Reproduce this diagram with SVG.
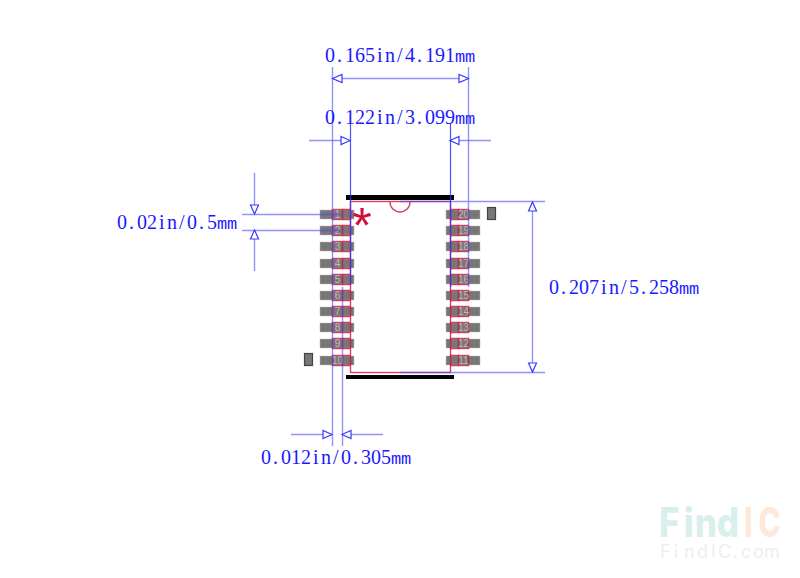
<svg xmlns="http://www.w3.org/2000/svg" width="800" height="578" viewBox="0 0 800 578">
<style>
.d{stroke:#4a4aff;stroke-opacity:.6;stroke-width:1.4;fill:none}
.s{stroke:#3030ff;stroke-opacity:.85;stroke-width:1.2;fill:none}
.t{font-family:"Liberation Serif",serif;font-size:20px;fill:#1a1aff}
.u{font-family:"Liberation Mono",monospace;font-size:17px}
.p{fill:#777;stroke:#bbb;stroke-width:1;stroke-opacity:.5}
.r{fill:none;stroke:#d0103a;stroke-width:1.4;stroke-opacity:.8}
.n{font-family:"Liberation Sans",sans-serif;font-size:10px;fill:#bbb;text-anchor:middle}
.b{fill:#000}
.m{fill:#777;stroke:#444;stroke-width:1.2}
.a{fill:#fff;stroke:#3a3aff;stroke-width:1.2}
</style>
<rect width="800" height="578" fill="#fff"/>
<g id="pins-left">
<g id="pin1"><rect class="p" x="320" y="210" width="34" height="9"/><rect class="r" x="332.500" y="209.500" width="10" height="10"/><path class="r" d="M342.500 209.500H350M342.500 219.500H350"/><text class="n" x="337.500" y="218">1</text></g>
<g id="pin2"><rect class="p" x="320" y="226" width="34" height="9"/><rect class="r" x="332.500" y="225.500" width="10" height="10"/><path class="r" d="M342.500 225.500H350M342.500 235.500H350"/><text class="n" x="337.500" y="234">2</text></g>
<g id="pin3"><rect class="p" x="320" y="242" width="34" height="9"/><rect class="r" x="332.500" y="241.500" width="10" height="10"/><path class="r" d="M342.500 241.500H350M342.500 251.500H350"/><text class="n" x="337.500" y="250">3</text></g>
<g id="pin4"><rect class="p" x="320" y="259" width="34" height="9"/><rect class="r" x="332.500" y="258.500" width="10" height="10"/><path class="r" d="M342.500 258.500H350M342.500 268.500H350"/><text class="n" x="337.500" y="267">4</text></g>
<g id="pin5"><rect class="p" x="320" y="275" width="34" height="9"/><rect class="r" x="332.500" y="274.500" width="10" height="10"/><path class="r" d="M342.500 274.500H350M342.500 284.500H350"/><text class="n" x="337.500" y="283">5</text></g>
<g id="pin6"><rect class="p" x="320" y="291" width="34" height="9"/><rect class="r" x="332.500" y="290.500" width="10" height="10"/><path class="r" d="M342.500 290.500H350M342.500 300.500H350"/><text class="n" x="337.500" y="299">6</text></g>
<g id="pin7"><rect class="p" x="320" y="307" width="34" height="9"/><rect class="r" x="332.500" y="306.500" width="10" height="10"/><path class="r" d="M342.500 306.500H350M342.500 316.500H350"/><text class="n" x="337.500" y="315">7</text></g>
<g id="pin8"><rect class="p" x="320" y="323" width="34" height="9"/><rect class="r" x="332.500" y="322.500" width="10" height="10"/><path class="r" d="M342.500 322.500H350M342.500 332.500H350"/><text class="n" x="337.500" y="331">8</text></g>
<g id="pin9"><rect class="p" x="320" y="339" width="34" height="9"/><rect class="r" x="332.500" y="338.500" width="10" height="10"/><path class="r" d="M342.500 338.500H350M342.500 348.500H350"/><text class="n" x="337.500" y="347">9</text></g>
<g id="pin10"><rect class="p" x="320" y="356" width="34" height="9"/><rect class="r" x="332.500" y="355.500" width="10" height="10"/><path class="r" d="M342.500 355.500H350M342.500 365.500H350"/><text class="n" x="337.500" y="364">10</text></g>
</g>
<g id="pins-right">
<g id="pin20"><rect class="p" x="446" y="210" width="34" height="9"/><rect class="r" x="458.500" y="209.500" width="10" height="10"/><path class="r" d="M450 209.500H458.500M450 219.500H458.500"/><text class="n" x="463.500" y="218">20</text></g>
<g id="pin19"><rect class="p" x="446" y="226" width="34" height="9"/><rect class="r" x="458.500" y="225.500" width="10" height="10"/><path class="r" d="M450 225.500H458.500M450 235.500H458.500"/><text class="n" x="463.500" y="234">19</text></g>
<g id="pin18"><rect class="p" x="446" y="242" width="34" height="9"/><rect class="r" x="458.500" y="241.500" width="10" height="10"/><path class="r" d="M450 241.500H458.500M450 251.500H458.500"/><text class="n" x="463.500" y="250">18</text></g>
<g id="pin17"><rect class="p" x="446" y="259" width="34" height="9"/><rect class="r" x="458.500" y="258.500" width="10" height="10"/><path class="r" d="M450 258.500H458.500M450 268.500H458.500"/><text class="n" x="463.500" y="267">17</text></g>
<g id="pin16"><rect class="p" x="446" y="275" width="34" height="9"/><rect class="r" x="458.500" y="274.500" width="10" height="10"/><path class="r" d="M450 274.500H458.500M450 284.500H458.500"/><text class="n" x="463.500" y="283">16</text></g>
<g id="pin15"><rect class="p" x="446" y="291" width="34" height="9"/><rect class="r" x="458.500" y="290.500" width="10" height="10"/><path class="r" d="M450 290.500H458.500M450 300.500H458.500"/><text class="n" x="463.500" y="299">15</text></g>
<g id="pin14"><rect class="p" x="446" y="307" width="34" height="9"/><rect class="r" x="458.500" y="306.500" width="10" height="10"/><path class="r" d="M450 306.500H458.500M450 316.500H458.500"/><text class="n" x="463.500" y="315">14</text></g>
<g id="pin13"><rect class="p" x="446" y="323" width="34" height="9"/><rect class="r" x="458.500" y="322.500" width="10" height="10"/><path class="r" d="M450 322.500H458.500M450 332.500H458.500"/><text class="n" x="463.500" y="331">13</text></g>
<g id="pin12"><rect class="p" x="446" y="339" width="34" height="9"/><rect class="r" x="458.500" y="338.500" width="10" height="10"/><path class="r" d="M450 338.500H458.500M450 348.500H458.500"/><text class="n" x="463.500" y="347">12</text></g>
<g id="pin11"><rect class="p" x="446" y="356" width="34" height="9"/><rect class="r" x="458.500" y="355.500" width="10" height="10"/><path class="r" d="M450 355.500H458.500M450 365.500H458.500"/><text class="n" x="463.500" y="364">11</text></g>
</g>
<g id="body">
<rect class="r" x="350.500" y="201.500" width="100" height="171"/>
<path class="r" d="M390 202A10 10 0 0 0 410 202"/>
<rect class="b" x="346" y="195" width="108" height="5"/>
<rect class="b" x="346" y="375" width="108" height="4"/>
<rect class="m" x="304.500" y="353.500" width="8" height="12"/>
<rect class="m" x="487.500" y="207.500" width="8" height="12"/>
<text x="362" y="243" font-family="Liberation Sans, sans-serif" font-size="50" fill="#d0103a" text-anchor="middle">*</text>
</g>
<g id="connectors">
<path class="d" d="M332.500 67V446M468.500 67V287M342.500 287V446M400 201.500H545M400 372.500H545M242 214.500H340M242 230.500H340"/>
<path class="s" d="M350.500 123V285M450.500 123V287"/>
<path class="d" d="M332.500 78.500H468.500M309 140.500H350M491 140.500H450M254.500 173V214M254.500 271V230M291 434.500H332M383 434.500H342M532.500 202V372"/>
<path class="a" d="M332.500 78.500L342 74.500V82.500ZM468.500 78.500L459 74.500V82.500ZM350 140.500L341 136.500V144.500ZM450 140.500L459 136.500V144.500ZM254.500 214L250.500 205H258.500ZM254.500 230L250.500 239H258.500ZM332 434.500L323 430.500V438.500ZM342 434.500L351 430.500V438.500ZM532.500 202L528.500 211H536.500ZM532.500 372L528.500 363H536.500Z"/>
</g>
<g id="labels">
<text class="t" y="62" x="325 337 345 355 365 377 385 397 405 417 425 435 445 455 465">0.165in/4.191<tspan class="u">mm</tspan></text>
<text class="t" y="124" x="325 337 345 355 365 377 385 397 405 417 425 435 445 455 465">0.122in/3.099<tspan class="u">mm</tspan></text>
<text class="t" y="229" x="117 129 137 147 159 167 179 187 199 207 217 227">0.02in/0.5<tspan class="u">mm</tspan></text>
<text class="t" y="294" x="549 561 569 579 589 601 609 621 629 641 649 659 669 679 689">0.207in/5.258<tspan class="u">mm</tspan></text>
<text class="t" y="464" x="261 273 281 291 301 313 321 333 341 353 361 371 381 391 401">0.012in/0.305<tspan class="u">mm</tspan></text>
</g>
<g id="watermark" font-family="Inter, sans-serif" font-weight="800" font-size="41">
<text transform="translate(659,537) scale(.85,1)" fill="#d9efec" x="0 29 42 68">Find</text>
<text transform="translate(744,537) scale(.72,1)" fill="#fde8da" x="0 20">IC</text>
<text y="558" font-size="18" font-weight="400" fill="#eeeeee" x="660 674 684 697 711 718 732 741 753 764">FindIC.com</text>
</g>
</svg>
